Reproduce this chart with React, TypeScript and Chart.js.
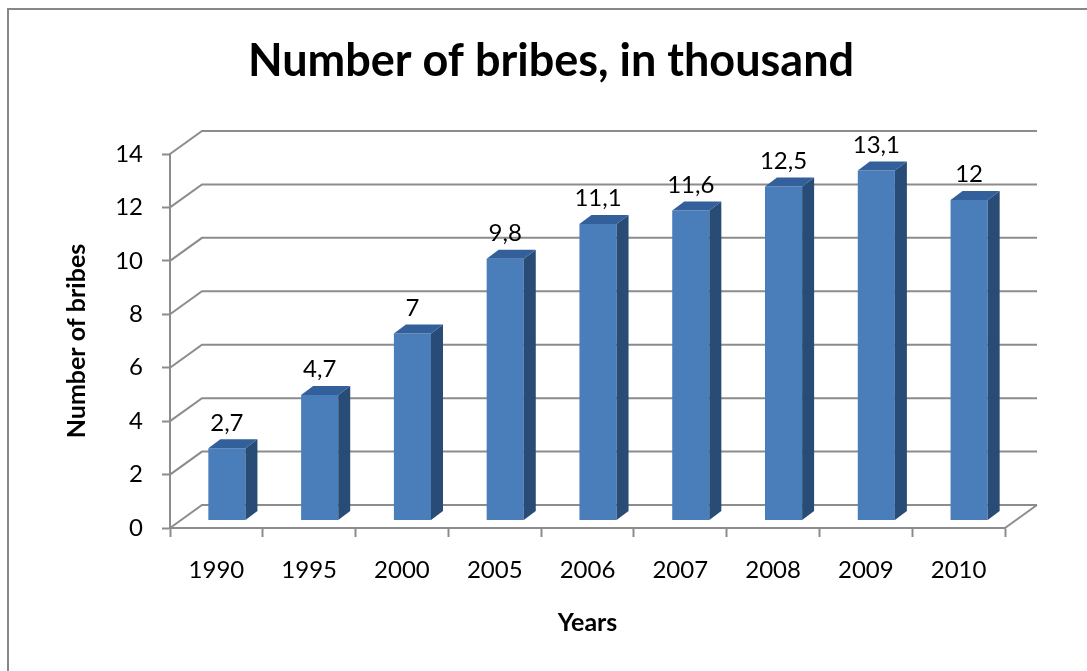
import React, { useEffect, useRef } from 'react';
import { Chart, registerables } from 'chart.js';

Chart.register(...registerables);

// ---- data ----
const categories = ['1990', '1995', '2000', '2005', '2006', '2007', '2008', '2009', '2010'];
const bribes = [2.7, 4.7, 7, 9.8, 11.1, 11.6, 12.5, 13.1, 12];
const yTickValues = [0, 2, 4, 6, 8, 10, 12, 14];

const TITLE = 'Number of bribes, in thousand';
const Y_TITLE = 'Number of bribes';
const X_TITLE = 'Years';

// ---- styles ----
const FONT = 'Lato, "Open Sans", sans-serif';
const GRID = '#8c8c8c';
const FRONT = '#4a7ebb';
const SIDE = '#294c77';
const TOP = '#33609a';
const WALL_DX = 32;
const WALL_DY = -23;
const BAR_SHIFT_X = 10.5;
const BAR_SHIFT_Y = -7.5;
const BAR_DX = 12;
const BAR_DY = -9;

const fmt = (v: number) => String(v).replace('.', ',');

const threeD = {
  id: 'threeD',
  beforeDraw(chart: any) {
    const ctx = chart.ctx;
    ctx.save();
    ctx.fillStyle = '#ffffff';
    ctx.fillRect(0, 0, chart.width, chart.height);
    ctx.strokeStyle = '#878787';
    ctx.lineWidth = 2;
    ctx.beginPath();
    ctx.moveTo(8, chart.height);
    ctx.lineTo(8, 9);
    ctx.lineTo(chart.width, 9);
    ctx.stroke();
    ctx.fillStyle = '#000000';
    ctx.font = `bold 45px ${FONT}`;
    ctx.textAlign = 'center';
    ctx.textBaseline = 'alphabetic';
    ctx.fillText(TITLE, 551, 76);
    ctx.restore();
  },
  beforeDatasetsDraw(chart: any) {
    const { ctx, chartArea: a, scales } = chart;
    const y = scales.y;
    ctx.save();
    ctx.strokeStyle = GRID;
    ctx.lineWidth = 2;
    ctx.beginPath();
    for (const t of y.ticks) {
      const py = y.getPixelForValue(t.value);
      ctx.moveTo(a.left, py);
      ctx.lineTo(a.left + WALL_DX, py + WALL_DY);
      ctx.lineTo(a.right + WALL_DX, py + WALL_DY);
    }
    const p0 = y.getPixelForValue(0);
    ctx.moveTo(a.right, p0);
    ctx.lineTo(a.right + WALL_DX, p0 + WALL_DY);
    ctx.stroke();
    ctx.restore();
    ctx.save();
    ctx.translate(BAR_SHIFT_X, BAR_SHIFT_Y);
  },
  afterDatasetsDraw(chart: any) {
    const ctx = chart.ctx;
    ctx.restore();
    const meta = chart.getDatasetMeta(0);
    ctx.save();
    meta.data.forEach((bar: any, i: number) => {
      const { x: cx, y: top, base, width } = bar.getProps(['x', 'y', 'base', 'width'], true);
      const l = cx - width / 2 + BAR_SHIFT_X;
      const r = cx + width / 2 + BAR_SHIFT_X;
      const t = top + BAR_SHIFT_Y;
      const b = base + BAR_SHIFT_Y;
      ctx.fillStyle = SIDE;
      ctx.beginPath();
      ctx.moveTo(r, b);
      ctx.lineTo(r + BAR_DX, b + BAR_DY);
      ctx.lineTo(r + BAR_DX, t + BAR_DY);
      ctx.lineTo(r, t);
      ctx.closePath();
      ctx.fill();
      ctx.fillStyle = TOP;
      ctx.beginPath();
      ctx.moveTo(l, t);
      ctx.lineTo(l + BAR_DX, t + BAR_DY);
      ctx.lineTo(r + BAR_DX, t + BAR_DY);
      ctx.lineTo(r, t);
      ctx.closePath();
      ctx.fill();
      ctx.fillStyle = '#000000';
      ctx.font = `24px ${FONT}`;
      ctx.textAlign = 'center';
      ctx.textBaseline = 'alphabetic';
      ctx.fillText(fmt(bribes[i]), cx + BAR_SHIFT_X, top - 25);
    });
    ctx.restore();
  },
};

export default function App() {
  const ref = useRef<HTMLCanvasElement | null>(null);
  useEffect(() => {
    if (!ref.current) return;
    Chart.defaults.font.family = FONT;
    const chart = new Chart(ref.current, {
      type: 'bar',
      data: {
        labels: categories,
        datasets: [
          {
            label: 'Number of bribes',
            data: bribes,
            backgroundColor: FRONT,
            borderWidth: 0,
            barPercentage: 0.4,
            categoryPercentage: 1,
            clip: false as any,
          },
        ],
      },
      options: {
        animation: false,
        responsive: false,
        layout: { padding: { top: 154, left: 0, right: 82, bottom: 0 } },
        plugins: {
          legend: { display: false },
          tooltip: { enabled: false },
          title: { display: false },
        },
        scales: {
          x: {
            offset: true,
            grid: {
              offset: true,
              drawOnChartArea: false,
              drawTicks: true,
              tickLength: 9,
              tickColor: GRID,
              tickWidth: 2,
            },
            border: { display: true, color: GRID, width: 2 },
            ticks: {
              color: '#000000',
              font: { family: FONT, size: 24 },
              padding: 19,
              autoSkip: false,
              maxRotation: 0,
            },
            title: {
              display: true,
              text: X_TITLE,
              color: '#000000',
              font: { family: FONT, size: 25, weight: 'bold' },
              padding: { top: 0, bottom: 33 },
            },
            afterFit: (s: any) => {
              s.height = 143;
            },
          },
          y: {
            min: 0,
            max: 14,
            afterBuildTicks: (s: any) => {
              s.ticks = yTickValues.map((v) => ({ value: v }));
            },
            grid: {
              drawOnChartArea: false,
              drawTicks: true,
              tickLength: 8,
              tickColor: GRID,
              tickWidth: 2,
            },
            border: { display: true, color: GRID, width: 2 },
            ticks: {
              color: '#000000',
              font: { family: FONT, size: 24 },
              padding: 19,
            },
            title: {
              display: true,
              text: Y_TITLE,
              color: '#000000',
              font: { family: FONT, size: 25, weight: 'bold' },
              padding: { top: 62, bottom: 0 },
            },
            afterFit: (s: any) => {
              s.width = 170;
            },
          },
        },
      },
      plugins: [threeD],
    });
    return () => chart.destroy();
  }, []);
  return (
    <div style={{ position: 'fixed', left: 0, top: 0, width: 1087, height: 671, background: '#fff' }}>
      <canvas ref={ref} width={1087} height={671} />
    </div>
  );
}
